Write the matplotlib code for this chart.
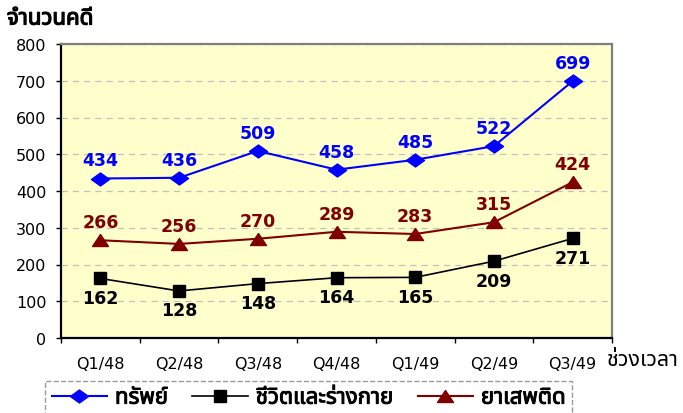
import matplotlib
matplotlib.use("Agg")
import matplotlib.pyplot as plt
import matplotlib.patheffects as pe
import numpy as np

plt.rcParams['font.family'] = ['DejaVu Sans', 'Noto Sans Thai']
THAI = ['Noto Sans Thai', 'DejaVu Sans']

# data
quarters = ['Q1/48', 'Q2/48', 'Q3/48', 'Q4/48', 'Q1/49', 'Q2/49', 'Q3/49']
property_cases = [434, 436, 509, 458, 485, 522, 699]   # ทรัพย์
life_cases = [162, 128, 148, 164, 165, 209, 271]       # ชีวิตและร่างกาย
drug_cases = [266, 256, 270, 289, 283, 315, 424]       # ยาเสพติด
series_names = ['ทรัพย์', 'ชีวิตและร่างกาย', 'ยาเสพติด']

# excel-like flattened markers
wide_diamond = [(-1, 0), (0, 0.72), (1, 0), (0, -0.72), (-1, 0)]
wide_triangle = [(0, 0.75), (-1, -0.75), (1, -0.75), (0, 0.75)]

fig = plt.figure(figsize=(6.83, 4.14), dpi=100)
ax = fig.add_axes([61/683, 1-339/414, (612-61)/683, (339-45)/414])
ax.set_facecolor('#FFFFCC')

x = np.arange(len(quarters))
l1, = ax.plot(x, property_cases, color='#0000FF', lw=1.5, marker=wide_diamond, ms=13, zorder=3)
l2, = ax.plot(x, life_cases, color='black', lw=1.2, marker='s', ms=8, zorder=3)
l3, = ax.plot(x, drug_cases, color='#800000', lw=1.5, marker=wide_triangle, ms=11.5, zorder=3)

lbl = dict(ha='center', va='center', fontsize=12.5, fontweight='bold', textcoords='offset points')
for xi, v in zip(x, property_cases):
    ax.annotate(str(v), (xi, v), xytext=(0, 13), color='#0000FF', **lbl)
for xi, v in zip(x, drug_cases):
    ax.annotate(str(v), (xi, v), xytext=(0, 13), color='#800000', **lbl)
for xi, v in zip(x, life_cases):
    ax.annotate(str(v), (xi, v), xytext=(0, -14), color='black', **lbl)

ax.set_xlim(-0.5, len(quarters) - 0.5)
ax.set_ylim(0, 800)
ax.set_yticks(np.arange(0, 801, 100))
ax.set_xticks(x)
ax.set_xticklabels(quarters)
ax.set_xticks(np.arange(-0.5, len(quarters), 1), minor=True)
ax.tick_params(axis='x', which='major', length=0, pad=13, labelsize=11.5)
ax.tick_params(axis='x', which='minor', length=3.6, width=1, direction='out')
ax.tick_params(axis='y', length=3.6, width=1, direction='out', labelsize=11.5, pad=7)
ax.grid(axis='y', color='#C0C0C0', linestyle=(0, (5, 4)), lw=0.9)
ax.set_axisbelow(True)

for s in ['top', 'right']:
    ax.spines[s].set_color('#808080')
    ax.spines[s].set_linewidth(1.6)
for s in ['left', 'bottom']:
    ax.spines[s].set_color('black')
    ax.spines[s].set_linewidth(1.6)

fake_bold = [pe.withStroke(linewidth=0.9, foreground='black')]
fig.text(7/683, 1-20/414, 'จำนวนคดี', family=THAI, fontsize=16, va='center', ha='left',
         path_effects=fake_bold)
fig.text(607/683, 1-361/414, 'ช่วงเวลา', family=THAI, fontsize=15.5, va='center', ha='left')

leg = fig.legend([l1, l2, l3], series_names, loc='upper left', bbox_to_anchor=(45/683, 1-382/414),
                 ncol=3, numpoints=1, handlelength=2.5, handletextpad=0.35, columnspacing=1.1,
                 prop={'family': THAI, 'size': 16},
                 frameon=True, fancybox=False, borderpad=0.3, borderaxespad=0)
for t in leg.get_texts():
    t.set_path_effects([pe.withStroke(linewidth=0.7, foreground='black')])
fr = leg.get_frame()
fr.set_edgecolor('#808080')
fr.set_linestyle('--')
fr.set_linewidth(1.0)

fig.savefig('out.png', dpi=100)
